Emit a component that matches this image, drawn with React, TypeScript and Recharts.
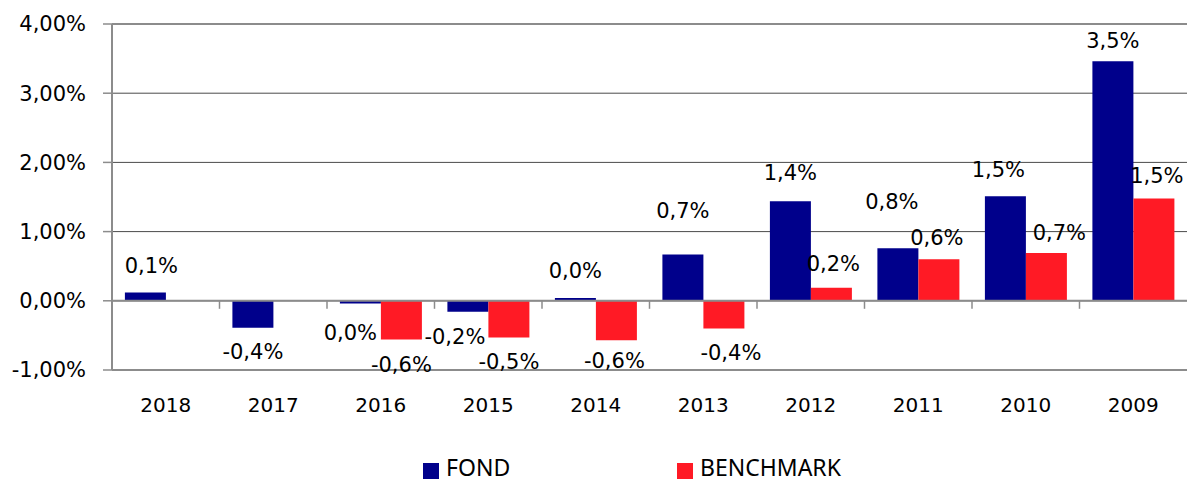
import React from "react";
import {
  BarChart,
  Bar,
  XAxis,
  YAxis,
  CartesianGrid,
  ReferenceLine,
  LabelList,
  Legend,
} from "recharts";

const categories = ["2018", "2017", "2016", "2015", "2014", "2013", "2012", "2011", "2010", "2009"];
const fondValues = [0.12, -0.39, -0.04, -0.16, 0.04, 0.67, 1.44, 0.76, 1.51, 3.46];
const benchmarkValues: (number | null)[] = [null, null, -0.56, -0.53, -0.57, -0.4, 0.19, 0.6, 0.69, 1.48];
const yTicks = [-1, 0, 1, 2, 3, 4];
const seriesNames = ["FOND", "BENCHMARK"];

// label placement nudges (style only, relative to default outside-end position)
const fondLabelNudge: [number, number][] = [
  [6, -2], [0, -1], [-10, 4], [-13, 0], [0, -3], [0, -19], [0, -4], [-6, -22], [-7, -2], [0, 4],
];
const benchLabelNudge: [number, number][] = [
  [0, 0], [0, 0], [-2, -4], [7, 0], [2, 0], [-2, 3], [13, 4], [3, 2], [9, -21], [8, 3],
];

const FOND_COLOR = "#00008B";
const BENCH_COLOR = "#FF1A25";
const AXIS_GRAY = "#8c8c8c";
const FONT = "'DejaVu Sans', Verdana, sans-serif";

const data = categories.map((c, i) => ({
  year: c,
  fond: fondValues[i],
  bench: benchmarkValues[i],
}));

const fmtPct = (v: number) => {
  const r = Math.round(v * 10) / 10;
  return (r === 0 ? 0 : r).toFixed(1).replace(".", ",") + "%";
};

const fmtTick = (v: number) => v.toFixed(2).replace(".", ",") + "%";

const makeBarLabel = (nudges: [number, number][]) => (props: any) => {
  const { value, index } = props;
  if (value === null || value === undefined) return null;
  const vb = props.viewBox || props;
  const x = vb.x ?? props.x;
  const y = vb.y ?? props.y;
  const w = vb.width ?? props.width;
  const h = vb.height ?? props.height;
  const top = Math.min(y, y + h);
  const bottom = Math.max(y, y + h);
  const [dx, dy] = nudges[index] || [0, 0];
  const cx = x + w / 2 + dx;
  const ty = (value >= 0 ? top - 24 : bottom + 25) + dy;
  return (
    <text
      x={cx}
      y={ty}
      textAnchor="middle"
      dominantBaseline="central"
      fontSize={21}
      fontFamily={FONT}
      fill="#000"
    >
      {fmtPct(value)}
    </text>
  );
};

const ZeroLine = (props: any) => {
  const { x1, x2, y1 } = props;
  const n = categories.length;
  const step = (x2 - x1) / n;
  const ticks = [];
  for (let k = 1; k < n; k++) {
    const tx = x1 + step * k;
    ticks.push(<line key={k} x1={tx} x2={tx} y1={y1} y2={y1 + 8} stroke={AXIS_GRAY} strokeWidth={1.5} />);
  }
  return (
    <g>
      <line x1={x1} x2={x2} y1={y1} y2={y1} stroke={AXIS_GRAY} strokeWidth={2} />
      {ticks}
    </g>
  );
};

const LegendContent = () => {
  const colors = [FOND_COLOR, BENCH_COLOR];
  return (
    <div style={{ position: "relative", height: 21 }}>
      {seriesNames.map((name, i) => (
        <div
          key={name}
          style={{
            position: "absolute",
            left: i === 0 ? 423 : 677,
            top: 0,
            display: "flex",
            alignItems: "flex-start",
          }}
        >
          <div style={{ width: 16, height: 16, marginTop: 5, background: colors[i] }} />
          <span
            style={{
              marginLeft: 7,
              marginTop: -2,
              fontFamily: "'Noto Sans', sans-serif",
              fontSize: 23,
              lineHeight: "23px",
              color: "#000",
            }}
          >
            {name}
          </span>
        </div>
      ))}
    </div>
  );
};

export default function App() {
  return (
    <div style={{ position: "absolute", left: 0, top: 0, width: 1187, height: 479, background: "#fff" }}>
      <BarChart
        width={1187}
        height={479}
        data={data}
        margin={{ top: 24, right: 0, bottom: 0, left: 0 }}
        barCategoryGap="12%"
        barGap={0}
      >
        <CartesianGrid horizontal vertical={false} stroke="#4a4a4a" strokeWidth={1} />
        <XAxis
          dataKey="year"
          height={88}
          tickLine={false}
          tickSize={0}
          tickMargin={28}
          axisLine={{ stroke: AXIS_GRAY, strokeWidth: 2 }}
          tick={{ fontSize: 20, fontFamily: FONT, fill: "#000" }}
          interval={0}
        />
        <YAxis
          width={112}
          domain={[-1, 4]}
          ticks={yTicks}
          tickFormatter={fmtTick}
          tickSize={9}
          tickMargin={17}
          tickLine={{ stroke: AXIS_GRAY, strokeWidth: 1.5 }}
          axisLine={{ stroke: AXIS_GRAY, strokeWidth: 2 }}
          tick={{ fontSize: 21, fontFamily: FONT, fill: "#000" }}
          allowDataOverflow
        />
        <Bar dataKey="fond" name="FOND" fill={FOND_COLOR} isAnimationActive={false}>
          <LabelList dataKey="fond" content={makeBarLabel(fondLabelNudge)} />
        </Bar>
        <Bar dataKey="bench" name="BENCHMARK" fill={BENCH_COLOR} isAnimationActive={false}>
          <LabelList dataKey="bench" content={makeBarLabel(benchLabelNudge)} />
        </Bar>
        <ReferenceLine y={4} stroke={AXIS_GRAY} strokeWidth={2} />
        <ReferenceLine y={0} shape={ZeroLine} />
        <Legend verticalAlign="bottom" wrapperStyle={{ height: 21 }} content={LegendContent} />
      </BarChart>
    </div>
  );
}
